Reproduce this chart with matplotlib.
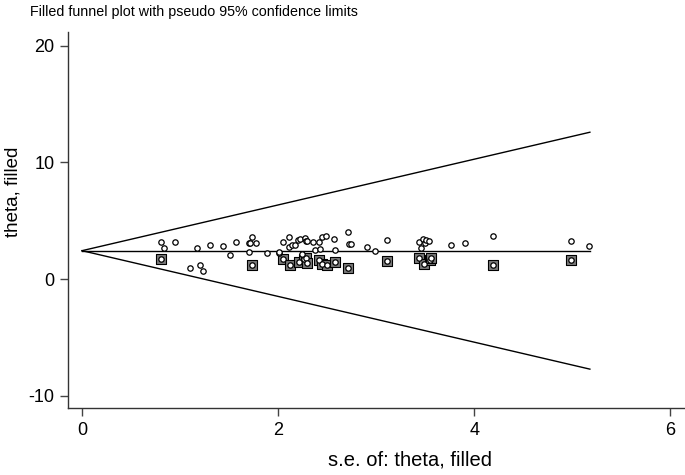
import numpy as np
import matplotlib
matplotlib.use("Agg")
import matplotlib.pyplot as plt

plt.rcParams['font.family'] = ['Liberation Sans', 'DejaVu Sans']
plt.rcParams['axes.unicode_minus'] = False

# observed studies (standard error, effect)
se_obs = [0.81, 0.84, 0.95, 1.10, 1.17, 1.20, 1.23, 1.31, 1.44, 1.51, 1.57, 1.70, 1.70, 1.71,
          1.73, 1.77, 1.89, 2.01, 2.01, 2.05, 2.11, 2.11, 2.14, 2.17, 2.20, 2.22, 2.24, 2.27,
          2.28, 2.29, 2.36, 2.38, 2.42, 2.43, 2.45, 2.49, 2.57, 2.58, 2.71, 2.72, 2.74, 2.91,
          2.99, 3.11, 3.44, 3.46, 3.48, 3.50, 3.51, 3.54, 3.76, 3.91, 4.19, 4.99, 5.17]
theta_obs = [3.14, 2.68, 3.17, 0.97, 2.68, 1.17, 0.66, 2.94, 2.83, 2.08, 3.17, 3.06, 2.29, 3.06,
             3.60, 3.06, 2.23, 2.23, 2.29, 3.14, 3.57, 2.71, 2.88, 2.91, 3.34, 3.43, 2.12, 3.54,
             3.30, 3.22, 3.14, 2.46, 3.20, 2.60, 3.57, 3.66, 3.43, 2.51, 4.00, 2.97, 2.97, 2.71,
             2.40, 3.37, 3.14, 2.68, 3.43, 3.06, 3.34, 3.28, 2.88, 3.06, 3.66, 3.26, 2.85]

# filled (imputed) studies
se_fill = [0.81, 1.73, 2.05, 2.12, 2.21, 2.26, 2.28, 2.29, 2.42, 2.45, 2.50, 2.58, 2.71, 3.11,
           3.44, 3.49, 3.55, 3.56, 4.19, 4.99]
theta_fill = [1.74, 1.23, 1.74, 1.23, 1.48, 1.69, 1.77, 1.37, 1.65, 1.29, 1.17, 1.43, 0.92, 1.52,
              1.77, 1.31, 1.60, 1.77, 1.20, 1.65]

theta_pooled = 2.43
se_max = 5.18

fig = plt.figure(figsize=(6.85, 4.75), dpi=100)
ax = fig.add_axes([0.0997, 0.1404, 0.9003, 0.7929])

se_line = np.array([0, se_max])
ax.plot(se_line, theta_pooled + 1.96 * se_line, color='black', lw=1)
ax.plot(se_line, theta_pooled - 1.96 * se_line, color='black', lw=1)
ax.plot(se_line, [theta_pooled, theta_pooled], color='black', lw=1)

ax.scatter(se_fill, theta_fill, marker='s', s=55, facecolor='#7a7a7a', edgecolor='black',
           linewidth=0.8, zorder=3)
ax.scatter(se_fill, theta_fill, marker='o', s=15, facecolor='white', edgecolor='black',
           linewidth=0.9, zorder=4)
ax.scatter(se_obs, theta_obs, marker='o', s=15, facecolor='white', edgecolor='black',
           linewidth=0.9, zorder=5)

ax.set_xlim(-0.14, 6.15)
ax.set_ylim(-11.08, 21.2)
ax.set_xticks([0, 2, 4, 6])
ax.set_yticks([-10, 0, 10, 20])
for s in ['top', 'right']:
    ax.spines[s].set_visible(False)
for s in ['left', 'bottom']:
    ax.spines[s].set_color('#333333')
    ax.spines[s].set_linewidth(1)
ax.tick_params(direction='out', length=6, width=1, color='#444444', labelsize=13, pad=4)

fig.text(410 / 685, 1 - 460 / 475, 's.e. of: theta, filled', fontsize=14.5,
         ha='center', va='center')
fig.text(13 / 685, 1 - 192 / 475, 'theta, filled', fontsize=13.5, rotation=90,
         ha='center', va='center')
fig.text(0.044, 0.975, 'Filled funnel plot with pseudo 95% confidence limits',
         fontsize=10.3, ha='left', va='center')

fig.savefig('out.png', dpi=100)
